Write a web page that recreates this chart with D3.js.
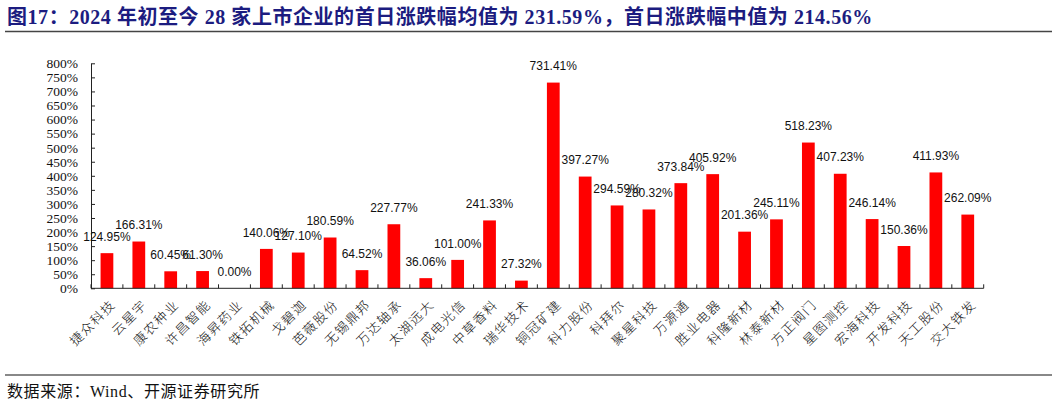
<!DOCTYPE html>
<html>
<head>
<meta charset="utf-8">
<script src="https://cdn.jsdelivr.net/npm/d3@7"></script>
<style>
  body { margin: 0; background: #fff; }
  svg { display: block; }
</style>
</head>
<body>
<div id="chart"></div>
<script>
/* data */
var companies = ["捷众科技", "云星宇", "康农种业", "许昌智能", "海昇药业", "铁拓机械", "戈碧迦",
                 "芭薇股份", "无锡鼎邦", "万达轴承", "太湖远大", "成电光信", "中草香料", "瑞华技术",
                 "铜冠矿建", "科力股份", "科拜尔", "聚星科技", "万源通", "胜业电器", "科隆新材",
                 "林泰新材", "方正阀门", "星图测控", "宏海科技", "开发科技", "天工股份", "交大铁发"];
var firstDayChange = [124.95, 166.31, 60.45, 61.30, 0.00, 140.06, 127.10,
                      180.59, 64.52, 227.77, 36.06, 101.00, 241.33, 27.32,
                      731.41, 397.27, 294.59, 280.32, 373.84, 405.92, 201.36,
                      245.11, 518.23, 407.23, 246.14, 150.36, 411.93, 262.09];
var yTicks = [0, 50, 100, 150, 200, 250, 300, 350, 400, 450, 500, 550, 600, 650, 700, 750, 800];

var titleText = "图17：2024 年初至今 28 家上市企业的首日涨跌幅均值为 231.59%，首日涨跌幅中值为 214.56%";
var sourceText = "数据来源：Wind、开源证券研究所";

var data = companies.map(function(d, i) { return { name: d, value: firstDayChange[i] }; });

/* sizes */
var W = 1058, H = 404;
var plot = { left: 91, right: 983.7, top: 63.3, bottom: 288.3 };

var svg = d3.select("#chart")
            .append("svg")
            .attr("width", W)
            .attr("height", H);

/* title and rules */
svg.append("text")
    .attr("x", 7)
    .attr("y", 24)
    .attr("font-family", "'Liberation Serif', 'Noto Sans CJK SC', serif")
    .attr("font-weight", "bold")
    .attr("font-size", 20)
    .attr("letter-spacing", 0.55)
    .attr("fill", "#1c1c80")
    .text(titleText);

svg.append("line")
    .attr("x1", 5).attr("x2", 1052)
    .attr("y1", 31.5).attr("y2", 31.5)
    .attr("stroke", "#444")
    .attr("stroke-width", 1.5);

svg.append("line")
    .attr("x1", 5).attr("x2", 1052)
    .attr("y1", 375).attr("y2", 375)
    .attr("stroke", "#888")
    .attr("stroke-width", 2);

svg.append("text")
    .attr("x", 7)
    .attr("y", 397)
    .attr("font-family", "'Liberation Serif', 'Noto Sans CJK SC', serif")
    .attr("font-size", 16)
    .attr("letter-spacing", 0.6)
    .attr("fill", "#111")
    .text(sourceText);

/* scales */
var x = d3.scaleBand()
    .domain(companies)
    .range([plot.left, plot.right])
    .paddingInner(0.6)
    .paddingOuter(0.3);

var y = d3.scaleLinear()
    .domain([0, 800])
    .range([plot.bottom, plot.top]);

/* bars */
svg.append("g")
    .selectAll("rect")
    .data(data)
    .enter().append("rect")
        .attr("x", function(d) { return x(d.name); })
        .attr("y", function(d) { return y(d.value); })
        .attr("width", x.bandwidth())
        .attr("height", function(d) { return y(0) - y(d.value); })
        .attr("fill", "#ff0000");

/* y axis */
var yAxis = d3.axisLeft(y)
    .tickValues(yTicks)
    .tickSizeInner(-4)
    .tickSizeOuter(0)
    .tickPadding(13)
    .tickFormat(function(d) { return d + "%"; });

var gy = svg.append("g")
    .attr("transform", "translate(" + plot.left + ",0)")
    .call(yAxis);
gy.select(".domain").attr("stroke", "#222");
gy.selectAll(".tick line").attr("stroke", "#222");
gy.selectAll(".tick text")
    .attr("font-family", "'Liberation Serif', serif")
    .attr("font-size", 13.5)
    .attr("fill", "#111");

/* x axis line and ticks between categories */
svg.append("line")
    .attr("x1", plot.left).attr("x2", plot.right)
    .attr("y1", y(0)).attr("y2", y(0))
    .attr("stroke", "#222");

var step = x.step();
svg.append("g")
    .selectAll("line")
    .data(d3.range(companies.length + 1))
    .enter().append("line")
        .attr("x1", function(i) { return plot.left + i * step; })
        .attr("x2", function(i) { return plot.left + i * step; })
        .attr("y1", y(0))
        .attr("y2", y(0) - 4)
        .attr("stroke", "#222");

/* value labels */
svg.append("g")
    .selectAll("text")
    .data(data)
    .enter().append("text")
        .attr("x", function(d) { return x(d.name) + x.bandwidth() / 2; })
        .attr("y", function(d) { return y(d.value) - 16.5; })
        .attr("dy", "0.35em")
        .attr("text-anchor", "middle")
        .attr("font-family", "'Liberation Sans', Arial, sans-serif")
        .attr("font-size", 12)
        .attr("fill", "#111")
        .text(function(d) { return d.value.toFixed(2) + "%"; });

/* category labels, rotated */
svg.append("g")
    .selectAll("text")
    .data(data)
    .enter().append("text")
        .attr("transform", function(d) {
            return "translate(" + (x(d.name) + x.bandwidth() / 2 + 6) + "," + (y(0) + 14) + ")rotate(-45)";
        })
        .attr("text-anchor", "end")
        .attr("dy", "0.35em")
        .attr("font-family", "'Noto Sans CJK SC', sans-serif")
        .attr("font-weight", 300)
        .attr("font-size", 13)
        .attr("letter-spacing", 1.5)
        .attr("fill", "#111")
        .text(function(d) { return d.name; });
</script>
</body>
</html>
